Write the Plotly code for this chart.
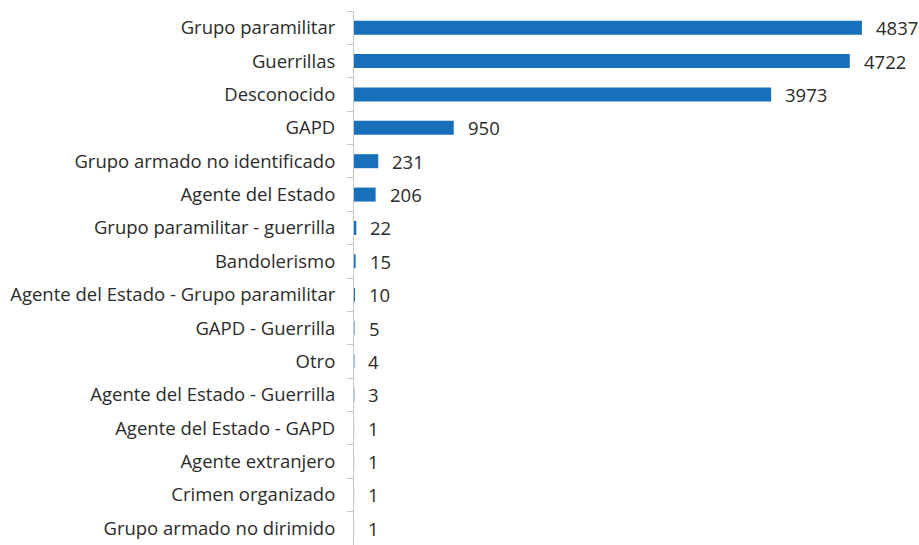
import plotly.graph_objects as go

categories = [
    "Grupo paramilitar",
    "Guerrillas",
    "Desconocido",
    "GAPD",
    "Grupo armado no identificado",
    "Agente del Estado",
    "Grupo paramilitar - guerrilla",
    "Bandolerismo",
    "Agente del Estado - Grupo paramilitar",
    "GAPD - Guerrilla",
    "Otro",
    "Agente del Estado - Guerrilla",
    "Agente del Estado - GAPD",
    "Agente extranjero",
    "Crimen organizado",
    "Grupo armado no dirimido",
]
values = [4837, 4722, 3973, 950, 231, 206, 22, 15, 10, 5, 4, 3, 1, 1, 1, 1]

BAR_COLOR = "#1870BA"
TEXT_COLOR = "#2b2b2b"
FONT = "Open Sans"

fig = go.Figure()
fig.add_trace(go.Bar(
    x=values,
    y=categories,
    orientation="h",
    marker=dict(color=BAR_COLOR, line=dict(width=0)),
    hoverinfo="skip",
))

for c, v in zip(categories, values):
    fig.add_annotation(
        x=v, y=c, text=str(v), showarrow=False,
        xanchor="left", yanchor="middle", xshift=12,
        font=dict(family=FONT, size=18.5, color=TEXT_COLOR),
    )

fig.update_layout(
    width=919, height=545,
    margin=dict(l=354, r=40, t=11, b=0),
    paper_bgcolor="white", plot_bgcolor="white",
    bargap=0.58,
    showlegend=False,
    font=dict(family=FONT, size=18.5, color=TEXT_COLOR),
    xaxis=dict(
        range=[0, 5000], visible=False, showgrid=False, zeroline=False,
        fixedrange=True,
    ),
    yaxis=dict(
        type="category", autorange="reversed",
        showline=True, linecolor="#C8C8C8", linewidth=1,
        ticks="outside", tickson="boundaries", ticklen=6,
        tickcolor="#C8C8C8", tickwidth=1,
        ticklabelstandoff=14,
        showgrid=False, zeroline=False,
        tickfont=dict(family=FONT, size=18.5, color=TEXT_COLOR),
    ),
)

fig.write_html(
    "out.html",
    config={"staticPlot": True},
    post_script="document.body.style.margin='0';document.body.style.overflow='hidden';",
)
